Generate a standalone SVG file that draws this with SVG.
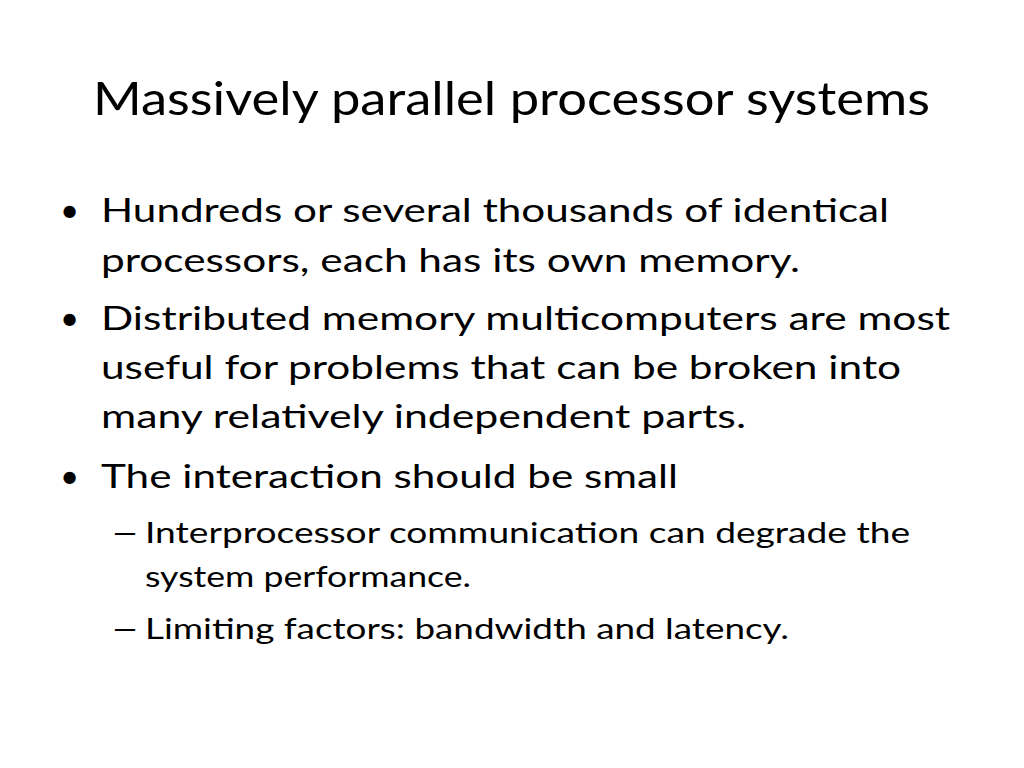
<svg xmlns="http://www.w3.org/2000/svg" width="1024" height="768" viewBox="0 0 1024 768">
<style>
text{font-family:Lato,"Open Sans","Liberation Sans",sans-serif;fill:#000}
.t{font-size:46px}
.b{font-size:33px}
.s{font-size:29px}
</style>
<rect width="1024" height="768" fill="#fff"/>
<g id="title"><text class="t" x="93" y="115" textLength="837" lengthAdjust="spacingAndGlyphs">Massively parallel processor systems</text></g>
<g id="body">
<text class="b" x="60" y="222">•</text>
<text class="b" x="101" y="222" textLength="788" lengthAdjust="spacingAndGlyphs">Hundreds or several thousands of identical</text>
<text class="b" x="101" y="272" textLength="699" lengthAdjust="spacingAndGlyphs">processors, each has its own memory.</text>
<text class="b" x="60" y="330">•</text>
<text class="b" x="101" y="330" textLength="849" lengthAdjust="spacingAndGlyphs">Distributed memory multicomputers are most</text>
<text class="b" x="101" y="379" textLength="800" lengthAdjust="spacingAndGlyphs">useful for problems that can be broken into</text>
<text class="b" x="101" y="428" textLength="645" lengthAdjust="spacingAndGlyphs">many relatively independent parts.</text>
<text class="b" x="60" y="488">•</text>
<text class="b" x="101" y="488" textLength="577" lengthAdjust="spacingAndGlyphs">The interaction should be small</text>
<text class="s" x="113" y="543" textLength="24" lengthAdjust="spacingAndGlyphs">—</text>
<text class="s" x="145" y="543" textLength="765" lengthAdjust="spacingAndGlyphs">Interprocessor communication can degrade the</text>
<text class="s" x="145" y="587" textLength="326" lengthAdjust="spacingAndGlyphs">system performance.</text>
<text class="s" x="113" y="639" textLength="24" lengthAdjust="spacingAndGlyphs">—</text>
<text class="s" x="145" y="639" textLength="644" lengthAdjust="spacingAndGlyphs">Limiting factors: bandwidth and latency.</text>
</g>
</svg>
